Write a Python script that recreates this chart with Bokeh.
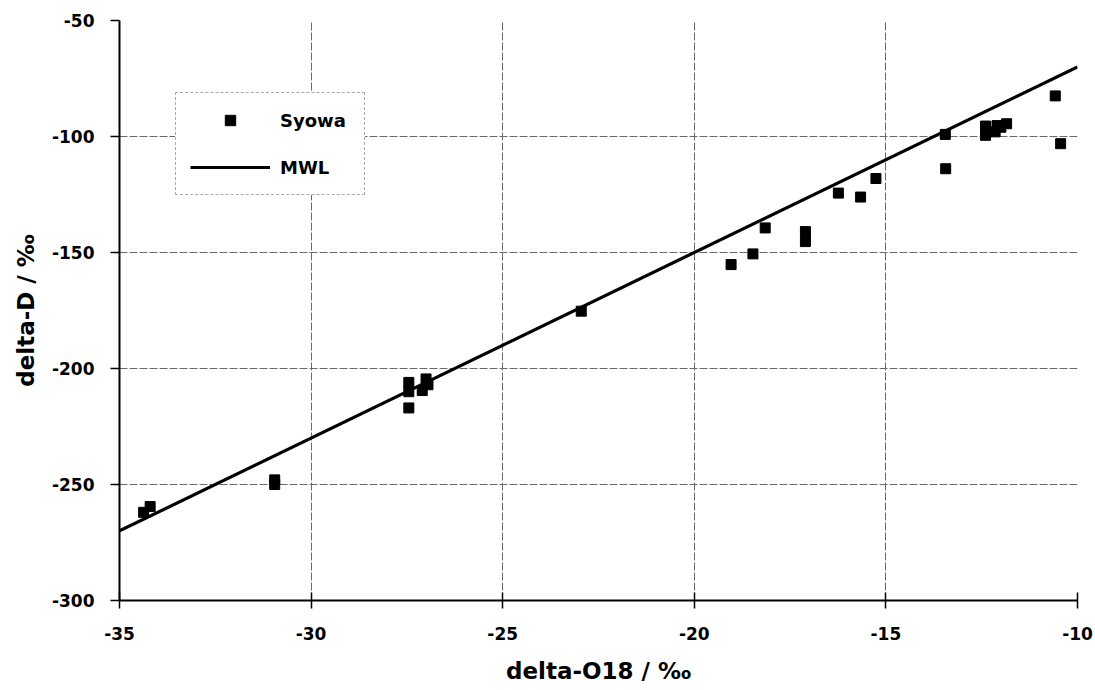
from bokeh.plotting import figure
from bokeh.models import Range1d, FixedTicker, Legend, LegendItem, CustomJSTickFormatter
from bokeh.embed import file_html
from bokeh.resources import INLINE

# Syowa samples: delta-O18 (permil) and delta-D (permil)
syowa_o18 = [-34.37, -34.2, -30.95, -30.95, -27.45, -27.45, -27.45, -27.1, -27.0, -26.95,
             -22.95, -19.04, -18.47, -18.15, -17.1, -17.1, -16.24, -15.66, -15.26,
             -13.45, -13.44, -12.4, -12.4, -12.15, -12.1, -11.85, -12.0, -10.58, -10.44]
syowa_d = [-262, -259.5, -248, -250, -206, -210, -217, -209.5, -204.5, -207,
           -175.3, -155.2, -150.6, -139.4, -141, -145.3, -124.4, -126.1, -118.1,
           -99.1, -113.9, -95.5, -99.5, -98, -95.3, -94.5, -96, -82.5, -103.1]

# Meteoric water line endpoints
mwl_o18 = [-35, -10]
mwl_d = [-270, -70]

x_ticks = [-35, -30, -25, -20, -15, -10]
y_ticks = [-300, -250, -200, -150, -100, -50]

FONT = "DejaVu Sans"

p = figure(width=1095, height=690, output_backend="svg", toolbar_location=None,
           x_range=Range1d(-35, -10), y_range=Range1d(-300, -50),
           min_border_left=119, min_border_right=18, min_border_top=20,
           min_border_bottom=90)
p.outline_line_color = None
p.background_fill_color = "white"

fmt = CustomJSTickFormatter(code="return tick.toFixed(0);")
for ax, ticks in ((p.xaxis[0], x_ticks), (p.yaxis[0], y_ticks)):
    ax.ticker = FixedTicker(ticks=ticks)
    ax.formatter = fmt
    ax.minor_tick_line_color = None
    ax.axis_line_color = "black"
    ax.axis_line_width = 2
    ax.major_tick_line_color = "black"
    ax.major_tick_line_width = 1.5
    ax.major_label_text_font = FONT
    ax.major_label_text_font_style = "bold"
    ax.major_label_text_font_size = "17px"
    ax.major_label_text_color = "black"
    ax.axis_label_text_font = FONT
    ax.axis_label_text_font_style = "bold"
    ax.axis_label_text_font_size = "23px"
    ax.axis_label_text_color = "black"

p.xaxis[0].major_tick_in = 8
p.xaxis[0].major_tick_out = 8
p.xaxis[0].major_label_standoff = 18
p.xaxis[0].axis_label = "delta-O18 / ‰"
p.xaxis[0].axis_label_standoff = 15

p.yaxis[0].major_tick_in = 0
p.yaxis[0].major_tick_out = 9
p.yaxis[0].major_label_standoff = 16
p.yaxis[0].axis_label = "delta-D / ‰"
p.yaxis[0].axis_label_standoff = 10

p.xgrid[0].ticker = p.xaxis[0].ticker
p.ygrid[0].ticker = p.yaxis[0].ticker
for g in (p.xgrid[0], p.ygrid[0]):
    g.grid_line_color = "#6a6a6a"
    g.grid_line_width = 1
    g.grid_line_dash = "8 2"

line = p.line(mwl_o18, mwl_d, line_color="black", line_width=3.2)
pts = p.scatter(syowa_o18, syowa_d, marker="square", size=10,
                fill_color="black", line_color="black")

legend = Legend(items=[LegendItem(label="Syowa", renderers=[pts]),
                       LegendItem(label="MWL", renderers=[line])],
                location=(56, 405))
legend.glyph_width = 80
legend.glyph_height = 26
legend.label_standoff = 10
legend.spacing = 21
legend.padding = 14
legend.margin = 0
legend.label_text_font = FONT
legend.label_text_font_style = "bold"
legend.label_text_font_size = "18px"
legend.label_text_color = "black"
legend.border_line_color = "#555555"
legend.border_line_width = 1
legend.border_line_dash = "6 2"
legend.background_fill_alpha = 1
legend.label_width = 70
p.add_layout(legend, "center")

open("out.html", "w").write(file_html(p, INLINE))
